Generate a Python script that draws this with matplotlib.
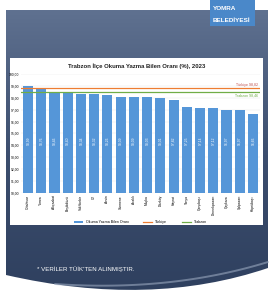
import numpy as np
import matplotlib
matplotlib.use("Agg")
from matplotlib import pyplot as plt
from matplotlib.path import Path
from matplotlib.patches import PathPatch, Rectangle

plt.rcParams['font.family'] = ['Liberation Sans', 'DejaVu Sans']

# data
districts = ['Ortahisar', 'Yomra', 'Akçaabat', 'Beşikdüzü', 'Vakfıkebir', 'Of',
             'Arsin', 'Sürmene', 'Araklı', 'Maçka', 'Düzköy', 'Hayrat', 'Tonya',
             'Çarşıbaşı', 'Dernekpazarı', 'Çaykara', 'Şalpazarı', 'Köprübaşı']
rates = [98.99, 98.76, 98.46, 98.40, 98.34, 98.32, 98.26, 98.09, 98.09,
         98.03, 98.01, 97.82, 97.25, 97.14, 97.12, 96.97, 96.97, 96.66]
turkiye_rate = 98.82
trabzon_rate = 98.46
y_ticks = [90, 91, 92, 93, 94, 95, 96, 97, 98, 99, 100]

W, H = 275, 300
fig = plt.figure(figsize=(W / 100, H / 100), dpi=100)

# background page, pixel coordinates
bg = fig.add_axes([0, 0, 1, 1])
bg.set_xlim(0, W)
bg.set_ylim(H, 0)
bg.axis('off')

# dark panel with curved bottom edge
verts = [(6, 10), (268, 10), (268, 268), (150, 308), (6, 275), (6, 10)]
codes = [Path.MOVETO, Path.LINETO, Path.LINETO, Path.CURVE3, Path.CURVE3, Path.CLOSEPOLY]
panel = PathPatch(Path(verts, codes), facecolor='none', edgecolor='none')
bg.add_patch(panel)
grad = np.linspace(0, 1, 256).reshape(-1, 1)
cmap = matplotlib.colors.LinearSegmentedColormap.from_list('p', ['#5f7190', '#3c4e6e', '#2e3f5e'])
img = bg.imshow(grad, cmap=cmap, extent=(6, 268, 300, 10), aspect='auto', zorder=1)
img.set_clip_path(panel)

# light swoosh near the bottom
t = np.linspace(0, 1, 60)
sx = (1 - t) ** 2 * 55 + 2 * (1 - t) * t * 170 + t ** 2 * 268
sy = (1 - t) ** 2 * 284 + 2 * (1 - t) * t * 292 + t ** 2 * 262
bg.plot(sx, sy, color='#9aa8bf', lw=1.4, alpha=0.6, zorder=2, solid_capstyle='round')

# white chart area
bg.add_patch(Rectangle((10, 58), 253, 167, facecolor='white', edgecolor='none', zorder=3))

# logo box
bg.add_patch(Rectangle((210, 0), 45, 26, facecolor='#4a88c9', edgecolor='none', zorder=4))
bg.text(213, 8, 'YOMRA', color='white', fontsize=4.6, fontweight='bold', va='center', zorder=5)
bg.text(213, 20, 'BELEDİYESİ', color='white', fontsize=4.6, fontweight='bold', va='center', zorder=5)

bg.text(136.5, 66.5, 'Trabzon İlçe Okuma Yazma Bilen Oranı (%), 2023', fontsize=4.3,
        fontweight='bold', ha='center', va='center', color='#222222', zorder=5)
bg.text(37, 269, '* VERİLER TÜİK\'TEN ALINMIŞTIR.', fontsize=4.4, color='white',
        va='center', zorder=5)

# chart
ax = fig.add_axes([21.4 / W, 1 - 193 / H, (259.6 - 21.4) / W, (193 - 74) / H])
ax.patch.set_alpha(0)
x = np.arange(len(districts))
bars = ax.bar(x, rates, width=0.76, color='#5596d8', zorder=2, label='Okuma Yazma Bilen Oranı')
l1 = ax.axhline(turkiye_rate, color='#ed7d31', lw=0.9, zorder=3, label='Türkiye')
l2 = ax.axhline(trabzon_rate, color='#70ad47', lw=0.9, zorder=3, label='Trabzon')
ax.set_xlim(-0.5, len(districts) - 0.5)
ax.set_ylim(y_ticks[0], y_ticks[-1])
ax.set_yticks(y_ticks)
ax.set_yticklabels([f'{v:.2f}'.replace('.', ',') for v in y_ticks], fontsize=2.4)
ax.set_xticks(x)
ax.set_xticklabels(districts, rotation=90, fontsize=2.4)
ax.tick_params(length=0, pad=1.5)
ax.grid(axis='y', color='#e3e3e3', lw=0.3, zorder=0)
for s in ax.spines.values():
    s.set_visible(False)

mid = (y_ticks[0] + min(rates)) / 2 + 1.1
for xi, r in zip(x, rates):
    ax.text(xi, mid, f'{r:.2f}'.replace('.', ','), rotation=90, color='white',
            fontsize=2.4, ha='center', va='center', zorder=4)

ax.text(len(districts) - 0.6, turkiye_rate + 0.12, f'Türkiye {turkiye_rate:.2f}'.replace('.', ','),
        color='#c0504d', fontsize=2.6, ha='right', va='bottom')
ax.text(len(districts) - 0.6, trabzon_rate - 0.12, f'Trabzon {trabzon_rate:.2f}'.replace('.', ','),
        color='#70ad47', fontsize=2.6, ha='right', va='top')

ax.legend([bars, l1, l2], ['Okuma Yazma Bilen Oranı', 'Türkiye', 'Trabzon'],
          loc='upper center', bbox_to_anchor=(0.5, -0.2), ncol=3, frameon=False,
          fontsize=2.6, handlelength=2.5, columnspacing=4)

fig.savefig('out.png', dpi=100)
